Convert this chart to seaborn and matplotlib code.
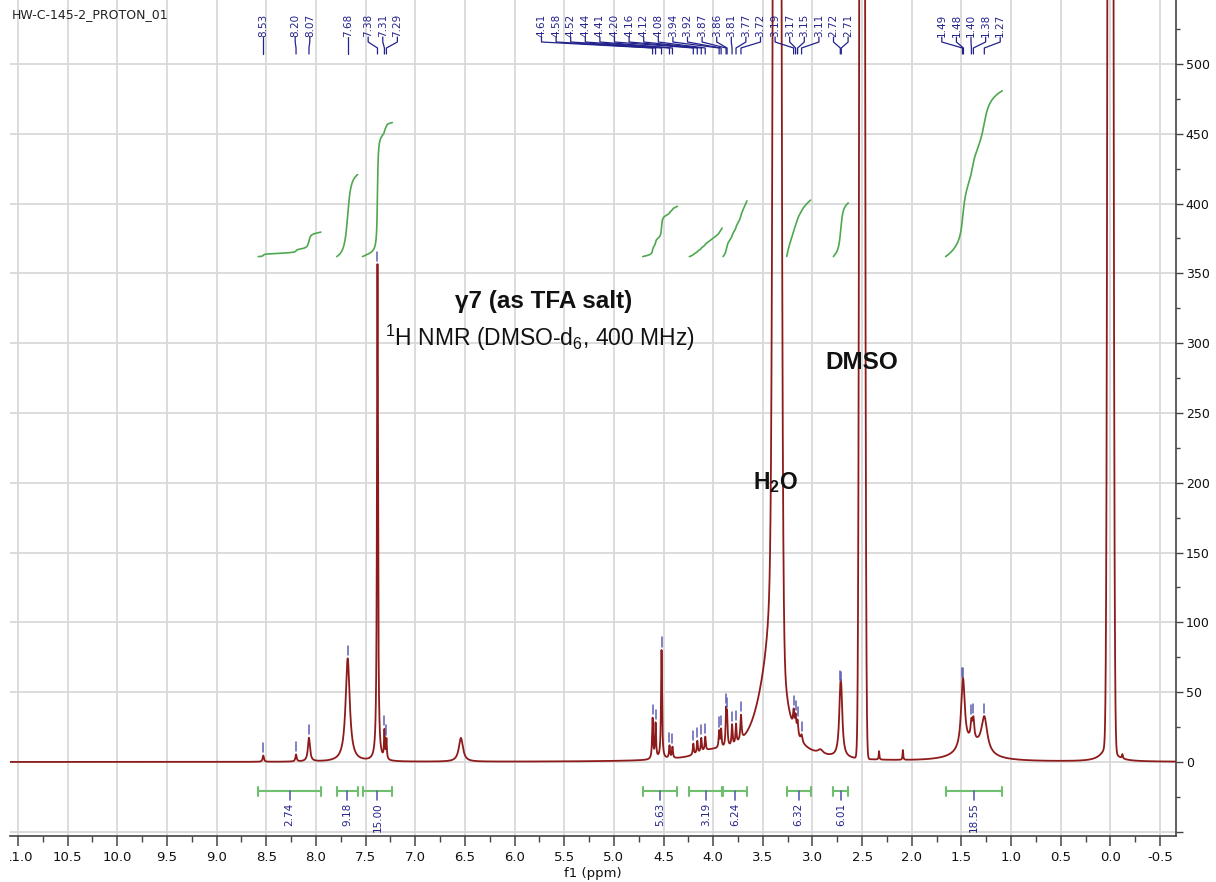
import numpy as np
import pandas as pd
import matplotlib
matplotlib.use("Agg")
import matplotlib.pyplot as plt
import seaborn as sns
from matplotlib.ticker import MultipleLocator, FixedLocator, FixedFormatter
from matplotlib.transforms import blended_transform_factory, Bbox, TransformedBbox

# ---- Lorentzian lines of the 1H spectrum: centre (ppm), intensity, FWHM (ppm) ----
line_ppm = [8.53, 8.20, 8.07, 7.68, 7.38, 7.31, 7.29, 6.54,
            4.61, 4.58, 4.52, 4.44, 4.41, 4.20, 4.16, 4.12, 4.08, 4.02,
            3.94, 3.92, 3.87, 3.86, 3.81, 3.77, 3.72,
            3.37, 3.45, 3.19, 3.17, 3.15, 3.11, 2.92,
            2.72, 2.71, 2.33, 2.09,
            1.49, 1.48, 1.40, 1.38, 1.27, 1.40, 0.02, -0.12]
line_height = [4.5, 5, 17, 74, 356, 20, 14, 17,
               29, 25, 78, 9, 8, 8, 9, 10, 10, 5,
               12, 13, 24, 20, 15, 14, 18,
               220, 45, 12, 11, 10, 5, 3,
               32, 30, 6, 7,
               28, 25, 12, 14, 25, 12, 12, 3]
line_fwhm = [0.015, 0.015, 0.025, 0.05, 0.012, 0.01, 0.01, 0.05,
             0.012, 0.012, 0.012, 0.012, 0.012, 0.012, 0.012, 0.012, 0.012, 0.35,
             0.012, 0.012, 0.012, 0.012, 0.012, 0.012, 0.015,
             0.09, 0.3, 0.015, 0.015, 0.015, 0.02, 0.06,
             0.03, 0.03, 0.008, 0.008,
             0.04, 0.04, 0.02, 0.02, 0.07, 0.3, 0.14, 0.01]

# ---- Gaussian cores of the solvent, water and TMS lines ----
core_ppm = [3.355, 2.50, 0.00]
core_height = [2600, 3000, 3000]
core_fwhm = [0.055, 0.038, 0.04]

# ---- peak picking ----
picked_ppm = [8.53, 8.20, 8.07, 7.68, 7.38, 7.31, 7.29,
              4.61, 4.58, 4.52, 4.44, 4.41, 4.20, 4.16, 4.12, 4.08,
              3.94, 3.92, 3.87, 3.86, 3.81, 3.77, 3.72,
              3.19, 3.17, 3.15, 3.11, 2.72, 2.71,
              1.49, 1.48, 1.40, 1.38, 1.27]

# ---- integration regions ----
integral_from = [8.58, 7.79, 7.53, 4.71, 4.24, 3.90, 3.26, 2.79, 1.66]
integral_to = [7.95, 7.58, 7.23, 4.36, 3.91, 3.66, 3.02, 2.64, 1.09]
integral_value = [2.74, 9.18, 15.00, 5.63, 3.19, 6.24, 6.32, 6.01, 18.55]

# ---- axis ticks ----
x_ticks = [11.0, 10.5, 10.0, 9.5, 9.0, 8.5, 8.0, 7.5, 7.0, 6.5, 6.0, 5.5,
           5.0, 4.5, 4.0, 3.5, 3.0, 2.5, 2.0, 1.5, 1.0, 0.5, 0.0, -0.5]
y_ticks = [-50, 0, 50, 100, 150, 200, 250, 300, 350, 400, 450, 500]
y_tick_labels = ["", "0", "50", "100", "150", "200", "250", "300", "350",
                 "400", "450", "500"]

sns.set_theme(style="whitegrid")
plt.rcParams["font.family"] = ["DejaVu Sans"]
plt.rcParams["mathtext.fontset"] = "custom"
plt.rcParams["mathtext.default"] = "regular"

SPEC = "#8e1b1b"
NAVY = "#22228c"
TICK_BLUE = "#5f5fb4"
GREEN = "#4fa84f"
BAR_GREEN = "#6fbf6f"
GRID = "#d9d9d9"
AXIS = "#444444"
ARIAL = ["Liberation Sans", "DejaVu Sans"]

# lineshape on a fine ppm grid
ppm = np.linspace(11.1, -0.7, 30000)
intensity = np.zeros_like(ppm)
for c, h, w in zip(line_ppm, line_height, line_fwhm):
    intensity += h / (1.0 + ((ppm - c) / (0.5 * w)) ** 2)
for c, h, w in zip(core_ppm, core_height, core_fwhm):
    intensity += h * np.exp(-4.0 * np.log(2.0) * ((ppm - c) / w) ** 2)
spec = pd.DataFrame({"ppm": ppm, "intensity": intensity})

W, H = 1216, 882
AX_L, AX_R, AX_B = 10, 1176, 836          # pixel edges of the plotting area
AX_H = AX_B
fig = plt.figure(figsize=(W / 100, H / 100), dpi=100)
fig.patch.set_facecolor("white")
ax = fig.add_axes([AX_L / W, (H - AX_B) / H, (AX_R - AX_L) / W, AX_H / H])
ax.set_facecolor("white")

sns.lineplot(data=spec, x="ppm", y="intensity", ax=ax, color=SPEC, lw=1.3,
             estimator=None, sort=False, zorder=3)
ax.set_xlim(11.08, -0.66)
ax.set_ylim(-53, 545.8)
ax.set_ylabel("")

# grid, ticks, spines
ax.xaxis.set_major_locator(FixedLocator(x_ticks))
ax.xaxis.set_major_formatter(FixedFormatter([f"{v:.1f}" for v in x_ticks]))
ax.xaxis.set_minor_locator(MultipleLocator(0.25))
ax.yaxis.tick_right()
ax.yaxis.set_major_locator(FixedLocator(y_ticks))
ax.yaxis.set_major_formatter(FixedFormatter(y_tick_labels))
ax.yaxis.set_minor_locator(MultipleLocator(25))
ax.grid(True, which="major", color=GRID, lw=1.3, zorder=0)
ax.grid(False, which="minor")
ax.tick_params(axis="x", which="major", bottom=True, direction="out", length=7,
               width=1.1, color=AXIS, labelsize=9.5, labelcolor="#111111", pad=4)
ax.tick_params(axis="x", which="minor", bottom=True, direction="out", length=4,
               width=1.0, color=AXIS)
ax.tick_params(axis="y", which="major", right=True, left=False, direction="out",
               length=5, width=1.0, color=AXIS, labelsize=9, labelcolor="#111111",
               pad=2)
ax.tick_params(axis="y", which="minor", right=True, left=False, direction="out",
               length=3, width=1.0, color=AXIS)
for side in ("top", "left"):
    ax.spines[side].set_visible(False)
for side in ("bottom", "right"):
    ax.spines[side].set_visible(True)
    ax.spines[side].set_color(AXIS)
    ax.spines[side].set_linewidth(1.2)

# the leftmost ppm label runs past the plot edge and is cut there
clip = TransformedBbox(Bbox([[AX_L / W, 0.0], [1.0, 1.0]]), fig.transFigure)
for lbl in ax.get_xticklabels():
    lbl.set_clip_box(clip)
    lbl.set_clip_on(True)

ax.set_xlabel("f1 (ppm)", fontsize=9.5, color="#111111")
ax.xaxis.set_label_coords(0.5, (AX_B - 873) / AX_H)
ax.xaxis.label.set_va("center")

# ---- integral curves and integration bars ----
INT_BASE = 362.0
INT_SCALE = 6.4
BAR_Y = -21.0
for a, b, v in zip(integral_from, integral_to, integral_value):
    m = (ppm <= a) & (ppm >= b)
    cum = np.cumsum(intensity[m])
    cum = cum / cum[-1]
    ax.plot(ppm[m], INT_BASE + cum * v * INT_SCALE, color=GREEN, lw=1.2, zorder=4)
    ax.plot([a, b], [BAR_Y, BAR_Y], color=BAR_GREEN, lw=1.5, zorder=4)
    for e in (a, b):
        ax.plot([e, e], [BAR_Y - 3.2, BAR_Y + 3.2], color=BAR_GREEN, lw=1.5, zorder=4)
    mid = 0.5 * (a + b)
    ax.plot([mid, mid], [BAR_Y, BAR_Y - 6.5], color=TICK_BLUE, lw=1.2, zorder=4)
    ax.text(mid, BAR_Y - 8.0, f"{v:.2f}", rotation=90, ha="center", va="top",
            fontsize=7.5, color=NAVY, zorder=5)


# ---- peak labels: spread into non-overlapping slots, clusters pushed leftwards ----
def spread_labels(shifts, gap):
    u = sorted(-s for s in shifts)
    clusters = [[u[0]]]
    for v in u[1:]:
        if v - clusters[-1][-1] < gap:
            clusters[-1].append(v)
        else:
            clusters.append([v])
    placed = []
    limit = np.inf
    for cl in reversed(clusters):
        n = len(cl)
        start = np.mean(cl) - 0.5 * (n - 1) * gap
        end = start + (n - 1) * gap
        if end > limit:
            start -= end - limit
        pos = [start + i * gap for i in range(n)]
        placed = pos + placed
        limit = pos[0] - gap
    return [-p for p in placed]


def fy(pix):
    return 1.0 - pix / AX_H


tr = blended_transform_factory(ax.transData, ax.transAxes)
ordered = sorted(picked_ppm, reverse=True)
slots = spread_labels(ordered, 0.147)
for p, lx in zip(ordered, slots):
    ax.text(lx, fy(37), f"{p:.2f}", rotation=90, ha="center", va="bottom",
            transform=tr, fontsize=7.5, color=NAVY, zorder=6)
    ax.plot([lx, lx, p, p], [fy(37), fy(42), fy(48), fy(54)], transform=tr,
            color=NAVY, lw=0.9, zorder=6)
    h = np.interp(p, ppm[::-1], intensity[::-1])
    ax.plot([p, p], [h + 2.5, h + 9.0], color=TICK_BLUE, lw=1.1, zorder=4)

# ---- annotations ----
ax.text(5.71, 329.5, "γ7 (as TFA salt)", ha="center", va="center", fontsize=17.5,
        fontweight="bold", family=ARIAL, color="#111111", zorder=7)
ax.text(5.74, 304, r"$^{1}$H NMR (DMSO-d$_{6}$, 400 MHz)", ha="center",
        va="center", fontsize=16.5, family=ARIAL, color="#111111", zorder=7)
ax.text(2.50, 286.5, "DMSO", ha="center", va="center", fontsize=17.5,
        fontweight="bold", family=ARIAL, color="#111111", zorder=7)
ax.text(3.37, 200.5, r"H$_{2}$O", ha="center", va="center", fontsize=16.5,
        fontweight="bold", family=ARIAL, color="#111111", zorder=7)
fig.text(12 / W, 1 - 15 / H, "HW-C-145-2_PROTON_01", ha="left", va="center",
         fontsize=9, color="#222222")

fig.savefig("out.png", dpi=100, facecolor="white")
